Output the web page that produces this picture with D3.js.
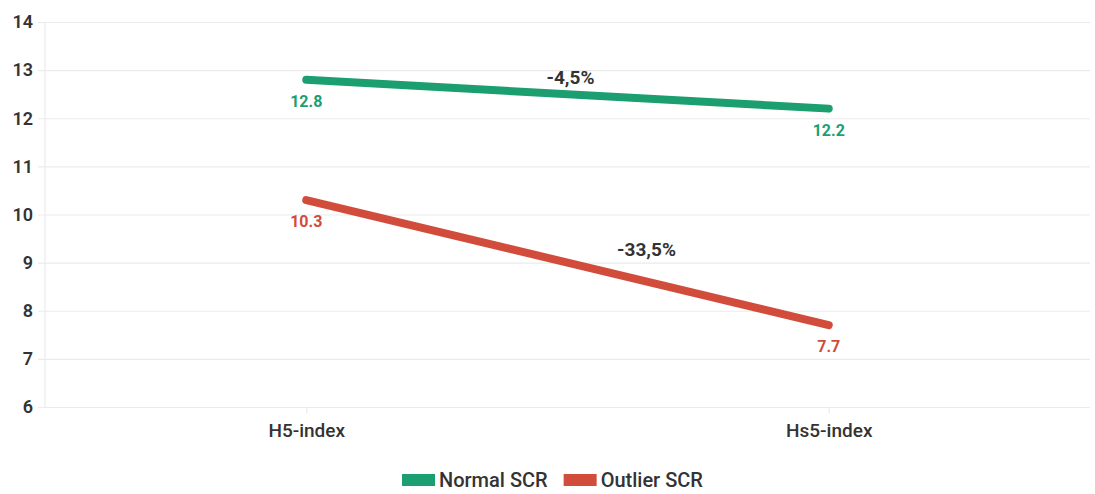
<!DOCTYPE html>
<html>
<head>
<meta charset="utf-8">
<script src="https://cdn.jsdelivr.net/npm/d3@7"></script>
<style>
  body { margin: 0; background: #fff; }
  text { font-family: Roboto, "Noto Sans", sans-serif; }
</style>
</head>
<body>
<div id="chart"></div>
<script>
const categories = ['H5-index', 'Hs5-index'];
const seriesNames = ['Normal SCR', 'Outlier SCR'];
const normalValues = [12.8, 12.2];
const outlierValues = [10.3, 7.7];
const changeLabels = ['-4,5%', '-33,5%'];
const yTicks = [6, 7, 8, 9, 10, 11, 12, 13, 14];

const W = 1095, H = 494;
const margin = { top: 22, right: 5, bottom: 87, left: 45 };
const innerW = W - margin.left - margin.right;
const innerH = H - margin.top - margin.bottom;
const colors = ['#1b9f70', '#d24c3b'];

const svg = d3.select('#chart').append('svg')
  .attr('width', W).attr('height', H);
const g = svg.append('g').attr('transform', `translate(${margin.left},${margin.top})`);

const x = d3.scalePoint().domain(categories).range([0, innerW]).padding(0.5);
const y = d3.scaleLinear().domain([6, 14]).range([innerH, 0]);

// gridlines + y axis labels
const yAxis = g.append('g')
  .call(d3.axisLeft(y).tickValues(yTicks).tickSize(-innerW - 7).tickPadding(6).tickFormat(d3.format('d')));
yAxis.select('.domain').remove();
yAxis.selectAll('.tick line').attr('x1', -7).attr('x2', innerW).attr('stroke', '#ebebeb').attr('stroke-width', 1.2);
yAxis.selectAll('.tick text').attr('x', -12).attr('fill', '#333').attr('font-size', 18)
  .attr('font-weight', 600);

// left vertical line
g.append('line').attr('x1', 0).attr('x2', 0).attr('y1', 0).attr('y2', innerH)
  .attr('stroke', '#ebebeb').attr('stroke-width', 1.2);

// x axis
const xAxis = g.append('g').attr('transform', `translate(0,${innerH})`)
  .call(d3.axisBottom(x).tickSize(6).tickPadding(8));
xAxis.select('.domain').remove();
xAxis.selectAll('.tick line').attr('stroke', '#ebebeb').attr('stroke-width', 1.2);
xAxis.selectAll('.tick text').attr('fill', '#333').attr('font-size', 19).attr('font-weight', 500)
  .attr('dy', '0.85em');

const series = [normalValues, outlierValues];
const line = d3.line().x((d, i) => x(categories[i])).y(d => y(d));

series.forEach((vals, s) => {
  g.append('path').attr('d', line(vals)).attr('fill', 'none')
    .attr('stroke', colors[s]).attr('stroke-width', 8).attr('stroke-linecap', 'round');
  g.selectAll(null).data(vals).enter().append('text')
    .attr('x', (d, i) => x(categories[i]))
    .attr('y', d => y(d) + 27)
    .attr('text-anchor', 'middle')
    .attr('fill', colors[s]).attr('font-size', 16).attr('font-weight', 700)
    .text(d => d3.format('.1f')(d));
});

// change annotations
const annOffsets = [{ dx: 3, dy: -10 }, { dx: 79, dy: -7 }];
changeLabels.forEach((t, s) => {
  const mid = (series[s][0] + series[s][1]) / 2;
  const mx = (x(categories[0]) + x(categories[1])) / 2;
  g.append('text')
    .attr('x', mx + annOffsets[s].dx)
    .attr('y', y(mid) + annOffsets[s].dy)
    .attr('text-anchor', 'middle')
    .attr('fill', '#333').attr('font-size', 19).attr('font-weight', 700)
    .text(t);
});

// legend
const legend = svg.append('g').attr('transform', `translate(402,${H - 7})`);
let lx = 0;
seriesNames.forEach((name, s) => {
  legend.append('rect').attr('x', lx).attr('y', -13).attr('width', 33).attr('height', 12)
    .attr('fill', colors[s]);
  const t = legend.append('text').attr('x', lx + 37).attr('y', 0)
    .attr('fill', '#333').attr('font-size', 20).attr('font-weight', 500).text(name);
  lx += 37 + t.node().getComputedTextLength() + 16;
});
</script>
</body>
</html>
